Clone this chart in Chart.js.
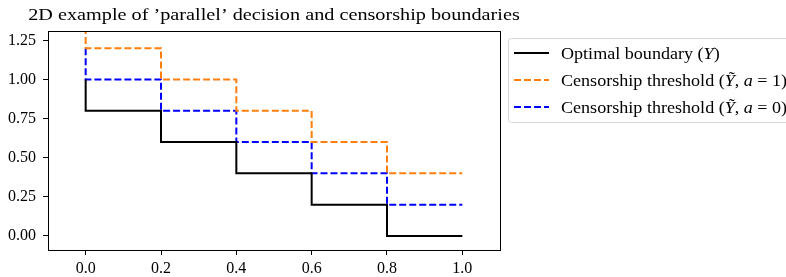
<!DOCTYPE html>
<html>
<head>
<meta charset="utf-8">
<script src="https://cdn.jsdelivr.net/npm/chart.js@4.4.0/dist/chart.umd.min.js"></script>
<style>
  html, body { margin: 0; padding: 0; background: #fff; }
  #wrap { width: 786px; height: 277px; }
</style>
</head>
<body>
<div id="wrap"><canvas id="c" width="786" height="277"></canvas></div>
<script>
// step points (x where each level starts, value holds until next x)
const xs = [0, 0, 0.2, 0.4, 0.6, 0.8, 1.0];
const yOptimal = [1.0, 0.8, 0.6, 0.4, 0.2, 0.0, 0.0];
const yCensor1 = [1.4, 1.2, 1.0, 0.8, 0.6, 0.4, 0.4];
const yCensor0 = [1.2, 1.0, 0.8, 0.6, 0.4, 0.2, 0.2];

const xTicks = [0, 0.2, 0.4, 0.6, 0.8, 1.0];
const yTicks = [0, 0.25, 0.5, 0.75, 1.0, 1.25];

const titleText = '2D example of \u2019parallel\u2019 decision and censorship boundaries';
const seriesLabels = [
    [{ t: 'Optimal boundary (' }, { t: 'Y', i: true }, { t: ')' }],
    [{ t: 'Censorship threshold (' }, { t: '\u1EF8', i: true }, { t: ', ' }, { t: 'a', i: true }, { t: ' = 1)' }],
    [{ t: 'Censorship threshold (' }, { t: '\u1EF8', i: true }, { t: ', ' }, { t: 'a', i: true }, { t: ' = 0)' }]
];

const SERIF = '"Liberation Serif", "DejaVu Serif", serif';

function pts(ys) {
    return xs.map((x, k) => ({ x: x, y: ys[k] }));
}

// draws text widened horizontally (computer-modern is wider than times)
function wideText(ctx, txt, x, y, sx) {
    ctx.save();
    ctx.translate(x, y);
    ctx.scale(sx, 1);
    ctx.fillText(txt, 0, 0);
    ctx.restore();
    return ctx.measureText(txt).width * sx;
}

const frame = {
    id: 'frame',
    afterDraw(chart) {
        const ctx = chart.ctx;
        const a = chart.chartArea;
        ctx.save();
        ctx.strokeStyle = '#000';
        ctx.lineWidth = 1;
        ctx.strokeRect(Math.round(a.left) + 0.5, Math.round(a.top) + 0.5,
            Math.round(a.right - a.left), Math.round(a.bottom - a.top));

        // title, centred over the axes
        ctx.fillStyle = '#000';
        ctx.font = '17px ' + SERIF;
        ctx.textAlign = 'left';
        ctx.textBaseline = 'alphabetic';
        const tsx = 1.19;
        const tw = ctx.measureText(titleText).width * tsx;
        wideText(ctx, titleText, (a.left + a.right) / 2 - tw / 2, 19.5, tsx);

        // legend
        const lx = 508.5, ly = 38.5;
        const w = 300, h = 84, r = 3;
        ctx.beginPath();
        ctx.moveTo(lx + w, ly);
        ctx.lineTo(lx + r, ly);
        ctx.arcTo(lx, ly, lx, ly + r, r);
        ctx.lineTo(lx, ly + h - r);
        ctx.arcTo(lx, ly + h, lx + r, ly + h, r);
        ctx.lineTo(lx + w, ly + h);
        ctx.strokeStyle = '#d6d6d6';
        ctx.lineWidth = 1;
        ctx.stroke();

        chart.data.datasets.forEach((ds, k) => {
            const y = 53 + k * 27;
            ctx.beginPath();
            ctx.strokeStyle = ds.borderColor;
            ctx.lineWidth = ds.borderWidth;
            ctx.setLineDash(ds.borderDash || []);
            ctx.moveTo(514, y);
            ctx.lineTo(549, y);
            ctx.stroke();
            ctx.setLineDash([]);
            let x = 561;
            ctx.fillStyle = '#000';
            seriesLabels[k].forEach(seg => {
                ctx.font = (seg.i ? 'italic ' : '') + '16px ' + SERIF;
                x += wideText(ctx, seg.t, x, y + 5.5, 1.13);
            });
        });
        ctx.restore();
    }
};

new Chart(document.getElementById('c'), {
    type: 'line',
    data: {
        datasets: [
            { label: 'Optimal boundary (Y)', data: pts(yOptimal), borderColor: '#000000', borderWidth: 2, stepped: 'before' },
            { label: 'Censorship threshold (Y~, a = 1)', data: pts(yCensor1), borderColor: '#ff7f0e', borderWidth: 2, borderDash: [7, 3], stepped: 'before' },
            { label: 'Censorship threshold (Y~, a = 0)', data: pts(yCensor0), borderColor: '#0000ff', borderWidth: 2, borderDash: [7, 3], stepped: 'before' }
        ]
    },
    options: {
        responsive: false,
        animation: false,
        layout: { padding: { left: 0, top: 31, right: 286, bottom: 0 } },
        elements: { point: { radius: 0 }, line: { tension: 0, fill: false } },
        plugins: { legend: { display: false }, tooltip: { enabled: false }, title: { display: false } },
        scales: {
            x: {
                type: 'linear',
                min: -0.1,
                max: 1.1,
                afterBuildTicks: s => { s.ticks = xTicks.map(v => ({ value: v })); },
                afterFit: s => { s.height = 27; },
                grid: { drawOnChartArea: false, drawTicks: true, tickLength: 5, color: '#000', tickWidth: 1 },
                border: { display: false },
                ticks: { color: '#000', padding: 4, maxRotation: 0, font: { family: SERIF, size: 16 }, callback: v => v.toFixed(1) }
            },
            y: {
                type: 'linear',
                min: -0.09,
                max: 1.31,
                afterBuildTicks: s => { s.ticks = yTicks.map(v => ({ value: v })); },
                afterFit: s => { s.width = 48; },
                grid: { drawOnChartArea: false, drawTicks: true, tickLength: 5, color: '#000', tickWidth: 1 },
                border: { display: false },
                ticks: { color: '#000', padding: 7, font: { family: SERIF, size: 16 }, callback: v => v.toFixed(2) }
            }
        }
    },
    plugins: [frame]
});
</script>
</body>
</html>
